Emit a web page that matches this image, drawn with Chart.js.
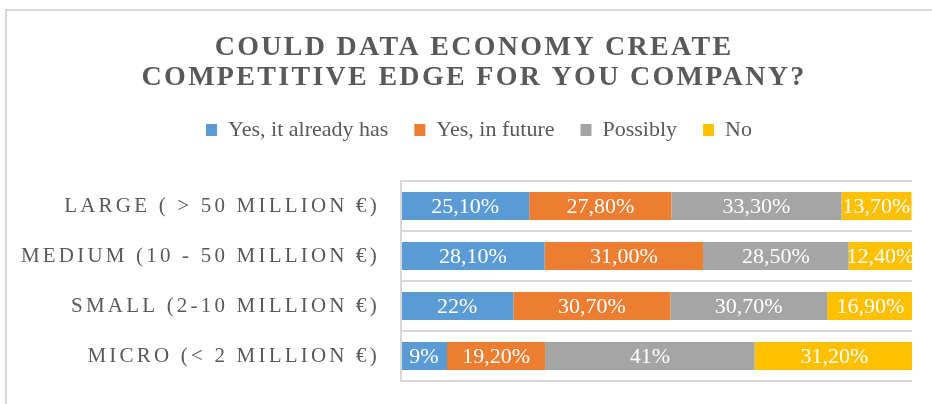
<!DOCTYPE html>
<html>
<head>
<meta charset="utf-8">
<script src="https://cdn.jsdelivr.net/npm/chart.js@4.4.1/dist/chart.umd.min.js"></script>
<style>
  html, body { margin: 0; padding: 0; background: #fff; overflow: hidden; }
  /* light chart frame, its right/bottom edges fall outside the window */
  #frame {
    position: absolute; left: 5px; top: 9px; width: 1000px; height: 1000px;
    border-left: 2px solid #d9d9d9; border-top: 2px solid #d9d9d9;
  }
  #chart { position: absolute; left: 0; top: 0; }
</style>
</head>
<body>
<div id="frame"></div>
<canvas id="chart" width="932" height="404"></canvas>
<script>
// ── Data ───────────────────────────────────────────────────────────────────
const TITLE_LINES  = ['COULD DATA ECONOMY CREATE', 'COMPETITIVE EDGE FOR YOU COMPANY?'];
const CATEGORIES   = ['LARGE ( > 50 MILLION €)', 'MEDIUM (10 - 50 MILLION €)', 'SMALL (2-10 MILLION €)', 'MICRO (< 2 MILLION €)'];
const SERIES_NAMES = ['Yes, it already has', 'Yes, in future', 'Possibly', 'No'];

// values exactly as printed on the bars (percent)
const YES_ALREADY = ['25.10', '28.10', '22',    '9'];
const YES_FUTURE  = ['27.80', '31.00', '30.70', '19.20'];
const POSSIBLY    = ['33.30', '28.50', '30.70', '41'];
const NO          = ['13.70', '12.40', '16.90', '31.20'];

const COLORS = ['#5b9bd5', '#ed7d31', '#a5a5a5', '#ffc000'];
const TEXT   = '#595959';
const GRID   = '#d9d9d9';
const SERIF  = '"Liberation Serif", "Times New Roman", serif';

// ── Plugins ────────────────────────────────────────────────────────────────

// Title with letter spacing (Chart.js title has no letterSpacing option)
const spacedTitle = {
  id: 'spacedTitle',
  beforeDraw(chart) {
    const ctx = chart.ctx;
    ctx.save();
    ctx.font          = `bold 28px ${SERIF}`;
    ctx.letterSpacing = '2.3px';
    ctx.fillStyle     = TEXT;
    ctx.textAlign     = 'center';
    ctx.textBaseline  = 'alphabetic';
    TITLE_LINES.forEach((line, i) => ctx.fillText(line, 474, 55 + i * 30));
    ctx.restore();
  },
};

// White value labels centred in each segment
const barLabels = {
  id: 'barLabels',
  afterLayout(chart) {
    // keep the long category labels from being clipped to the axis box
    chart.scales.y.left = 0;
  },
  afterDatasetsDraw(chart) {
    const ctx = chart.ctx;
    ctx.save();
    ctx.font         = `22px ${SERIF}`;
    ctx.fillStyle    = '#ffffff';
    ctx.textAlign    = 'center';
    ctx.textBaseline = 'middle';
    chart.data.datasets.forEach((ds, di) => {
      chart.getDatasetMeta(di).data.forEach((bar, i) => {
        ctx.fillText(ds.printed[i], (bar.x + bar.base) / 2, bar.y + 1);
      });
    });
    ctx.restore();
    // category labels (ticks.z = 1) are drawn right after this, spaced out
    ctx.letterSpacing = '3.2px';
  },
  afterDraw(chart) {
    chart.ctx.letterSpacing = '0px';
  },
};

// ── Chart ──────────────────────────────────────────────────────────────────
const fmt = s => s.replace('.', ',') + '%';

const datasets = [YES_ALREADY, YES_FUTURE, POSSIBLY, NO].map((vals, i) => ({
  label:           SERIES_NAMES[i],
  data:            vals.map(Number),
  printed:         vals.map(fmt),
  backgroundColor: COLORS[i],
  borderWidth:     0,
  barPercentage:   0.56,
  categoryPercentage: 1,
  clip:            0,
}));

new Chart(document.getElementById('chart'), {
  type: 'bar',
  data: { labels: CATEGORIES, datasets },
  options: {
    indexAxis:  'y',
    responsive: false,
    animation:  false,
    layout: { padding: { left: 46, right: 20, top: 93, bottom: 23 } },
    scales: {
      x: {
        stacked:  true,
        min:      0,
        max:      100,
        position: 'top',
        ticks:  { display: false },
        grid:   { display: false },
        border: { display: false },
        afterFit(scale) { scale.height = 30; },   // gap under the legend
      },
      y: {
        stacked: true,
        grid:   { color: GRID, lineWidth: 2, drawTicks: false },
        border: { color: GRID, width: 2, z: 1 },
        ticks: {
          color:   TEXT,
          font:    { family: SERIF, size: 21 },
          padding: 21,
          z:       1,
        },
        afterFit(scale) {
          scale.width = 355;
          scale.paddingTop = 0;
          scale.paddingBottom = 0;
        },
      },
    },
    plugins: {
      legend: {
        position: 'top',
        labels: {
          boxWidth:  11,
          boxHeight: 12,
          padding:   26,
          color:     TEXT,
          font:      { family: SERIF, size: 22 },
        },
      },
      title:   { display: false },
      tooltip: { enabled: false },
    },
  },
  plugins: [spacedTitle, barLabels],
});
</script>
</body>
</html>
